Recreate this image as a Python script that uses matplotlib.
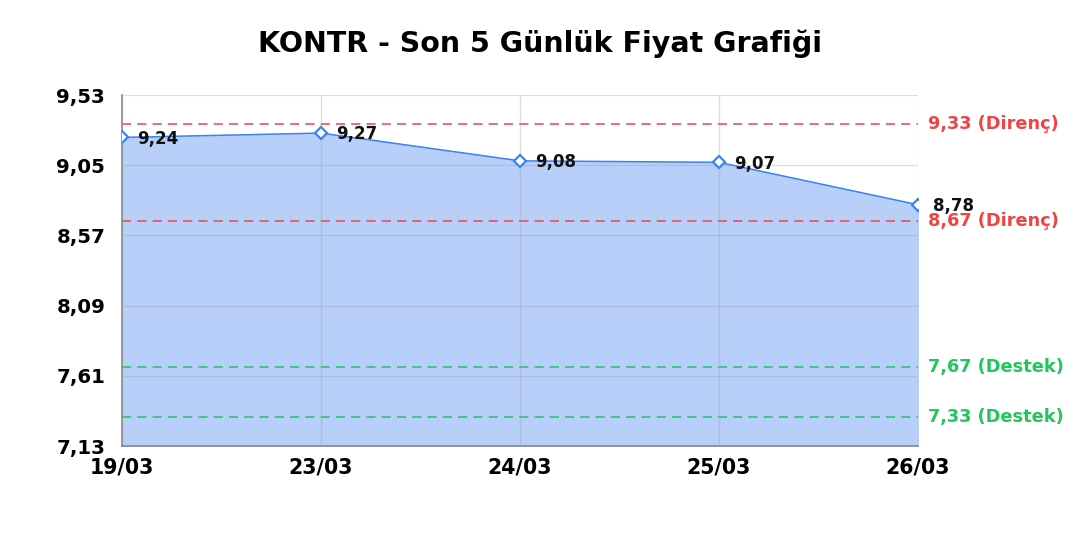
import numpy as np
import matplotlib.pyplot as plt

# price data
dates = ["19/03", "23/03", "24/03", "25/03", "26/03"]
prices = [9.24, 9.27, 9.08, 9.07, 8.78]

resistance = [9.33, 8.67]
support = [7.67, 7.33]

y_ticks = [7.13, 7.61, 8.09, 8.57, 9.05, 9.53]


def fmt(v):
    return "{:.2f}".format(v).replace(".", ",")


fig = plt.figure(figsize=(10.8, 5.4), dpi=100)
ax = fig.add_axes([0.113, 0.174, 0.737, 0.650])

x = np.arange(len(dates))
line_color = "#3b82f6"

ax.fill_between(x, prices, y_ticks[0], color="#b7cff9", zorder=1)
ax.plot(x, prices, color=line_color, linewidth=1.1, zorder=3)
ax.plot(x, prices, linestyle="none", marker="D", markersize=6,
        markerfacecolor="white", markeredgecolor=line_color,
        markeredgewidth=1.6, zorder=4)

for xi, p in zip(x, prices):
    ax.annotate(fmt(p), (xi, p), xytext=(11, -1), textcoords="offset points",
                fontsize=12, fontweight="bold", color="#111111",
                va="center", zorder=5)

# resistance / support lines
for r in resistance:
    ax.axhline(r, color="#ef4444", linestyle=(0, (6, 4)), linewidth=1.1, zorder=2)
    ax.text(1.013, r, fmt(r) + " (Direnç)", transform=ax.get_yaxis_transform(),
            color="#ef4444", fontsize=12.8, fontweight="bold", va="center")
for s in support:
    ax.axhline(s, color="#22c55e", linestyle=(0, (6, 4)), linewidth=1.1, zorder=2)
    ax.text(1.013, s, fmt(s) + " (Destek)", transform=ax.get_yaxis_transform(),
            color="#22c55e", fontsize=12.8, fontweight="bold", va="center")

ax.set_xlim(0, len(dates) - 1)
ax.set_ylim(y_ticks[0], y_ticks[-1])
ax.set_xticks(x)
ax.set_xticklabels(dates)
ax.set_yticks(y_ticks)
ax.set_yticklabels([fmt(v) for v in y_ticks])
ax.tick_params(axis="y", length=0, labelsize=14.2, pad=12)
ax.tick_params(axis="x", length=0, labelsize=14.8, pad=8)
for lab in ax.get_xticklabels() + ax.get_yticklabels():
    lab.set_fontweight("bold")

ax.set_axisbelow(False)
ax.grid(True, color="#a0a0a0", alpha=0.35, linewidth=0.9)
for side in ["top", "right"]:
    ax.spines[side].set_visible(False)
for side in ["left", "bottom"]:
    ax.spines[side].set_color("#888888")
    ax.spines[side].set_linewidth(1.2)

fig.suptitle("KONTR - Son 5 Günlük Fiyat Grafiği", fontsize=20.5,
             fontweight="bold", y=0.945)

plt.savefig("out.png", dpi=100)
